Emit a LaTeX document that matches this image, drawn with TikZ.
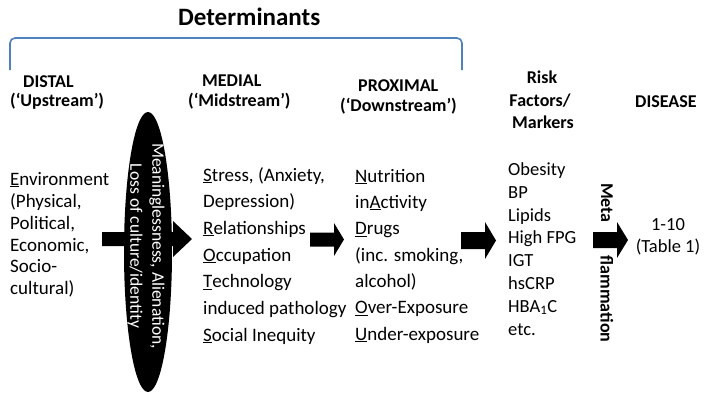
\documentclass[tikz,border=0pt]{standalone}
\usepackage{fontspec}
\setmainfont{Carlito}
\usetikzlibrary{shapes.geometric}
\definecolor{brblue}{HTML}{4F81BD}
\begin{document}
\begin{tikzpicture}[x=1pt,y=-1pt,
  txt/.style={anchor=base west, inner sep=0pt, font=\fontsize{19}{23}\selectfont},
  rtxt/.style={anchor=base west, inner sep=0pt, font=\fontsize{18.5}{22}\selectfont},
  hdr/.style={anchor=base west, inner sep=0pt, font=\fontsize{18}{22}\selectfont\bfseries},
  hdrc/.style={hdr, anchor=base},
  blockarrow/.style={fill=black},
  bracketline/.style={draw=brblue, line width=1.6pt, rounded corners=5pt},
]
\useasboundingbox[fill=white] (0,0) rectangle (705,400);

% title and bracket
\node[anchor=base west, inner sep=0pt, font=\fontsize{25}{30}\selectfont\bfseries] (title) at (178,25) {Determinants};
\draw[bracketline] (10,70) -- (10,38) -- (462,38) -- (462,70);

% headers
\node[hdr] (distal) at (23,87) {DISTAL};
\node[hdr] (distalb) at (10,106) {(‘Upstream’)};
\node[hdr] (medial) at (202,86) {MEDIAL};
\node[hdr] (medialb) at (188,106) {(‘Midstream’)};
\node[hdr] (prox) at (358,91) {PROXIMAL};
\node[hdr] (proxb) at (340,111) {(‘Downstream’)};
\node[hdrc] (risk) at (542,83) {Risk};
\node[hdrc] (riskb) at (540,106) {Factors/};
\node[hdrc] (riskc) at (543,128) {Markers};
\node[hdr] (disease) at (635,107) {DISEASE};

% arrows
\fill[blockarrow] (102,232) -- (173,232) -- (173,221) -- (192,239) -- (173,257) -- (173,246) -- (102,246) -- cycle;
\fill[blockarrow] (310,232.5) -- (334,232.5) -- (334,223) -- (344,239.5) -- (334,256) -- (334,246.5) -- (310,246.5) -- cycle;
\fill[blockarrow] (461,232) -- (485,232) -- (485,222) -- (496,240.5) -- (485,259) -- (485,249) -- (461,249) -- cycle;
\fill[blockarrow] (593,232) -- (617,232) -- (617,222) -- (628,240) -- (617,258) -- (617,248) -- (593,248) -- cycle;

% ellipse
\node[ellipse, fill=black, minimum width=48pt, minimum height=280pt, inner sep=0pt] (ell) at (148,252) {};
\node[rotate=-90, text=white, align=center, inner sep=0pt, font=\fontsize{17.5}{22}\selectfont] (elltxt) at (146,246) {Meaninglessness, Alienation,\\Loss of culture/identity};

% distal column
\node[txt] (d1) at (10,185) {\underline{E}nvironment};
\node[txt] (d2) at (10,207) {(Physical,};
\node[txt] (d3) at (10,229) {Political,};
\node[txt] (d4) at (10,251) {Economic,};
\node[txt] (d5) at (10,272) {Socio-};
\node[txt] (d6) at (10,294) {cultural)};

% medial column
\node[txt] (m1) at (203,181) {\underline{S}tress, (Anxiety,};
\node[txt] (m2) at (203,207.5) {Depression)};
\node[txt] (m3) at (203,234) {\underline{R}elationships};
\node[txt] (m4) at (203,261) {\underline{O}ccupation};
\node[txt] (m5) at (203,287.5) {\underline{T}echnology};
\node[txt] (m6) at (203,314) {induced pathology};
\node[txt] (m7) at (203,341) {\underline{S}ocial Inequity};

% proximal column
\node[txt] (p1) at (355,182) {\underline{N}utrition};
\node[txt] (p2) at (355,208) {in\underline{A}ctivity};
\node[txt] (p3) at (355,234.5) {\underline{D}rugs};
\node[txt] (p4) at (355,261) {(inc. smoking,};
\node[txt] (p5) at (355,287) {alcohol)};
\node[txt] (p6) at (355,313.5) {\underline{O}ver-Exposure};
\node[txt] (p7) at (355,340) {\underline{U}nder-exposure};

% risk factors column
\node[rtxt] (r1) at (508,175) {Obesity};
\node[rtxt] (r2) at (508,198) {BP};
\node[rtxt] (r3) at (508,221) {Lipids};
\node[rtxt] (r4) at (508,243.5) {High FPG};
\node[rtxt] (r5) at (508,266) {IGT};
\node[rtxt] (r6) at (508,289) {hsCRP};
\node[rtxt] (r7) at (508,312) {HBA\textsubscript{1}C};
\node[rtxt] (r8) at (508,335) {etc.};

% metaflammation
\node[rotate=-90, inner sep=0pt, font=\fontsize{18}{22}\selectfont\bfseries] (meta) at (607,203) {Meta};
\node[rotate=-90, inner sep=0pt, font=\fontsize{18}{22}\selectfont\bfseries] (flam) at (607,299) {flammation};

% disease
\node[anchor=base, inner sep=0pt, font=\fontsize{18.5}{22}\selectfont] (dis1) at (668,230) {1-10};
\node[anchor=base, inner sep=0pt, font=\fontsize{18.5}{22}\selectfont] (dis2) at (668,252) {(Table 1)};
\end{tikzpicture}
\end{document}
